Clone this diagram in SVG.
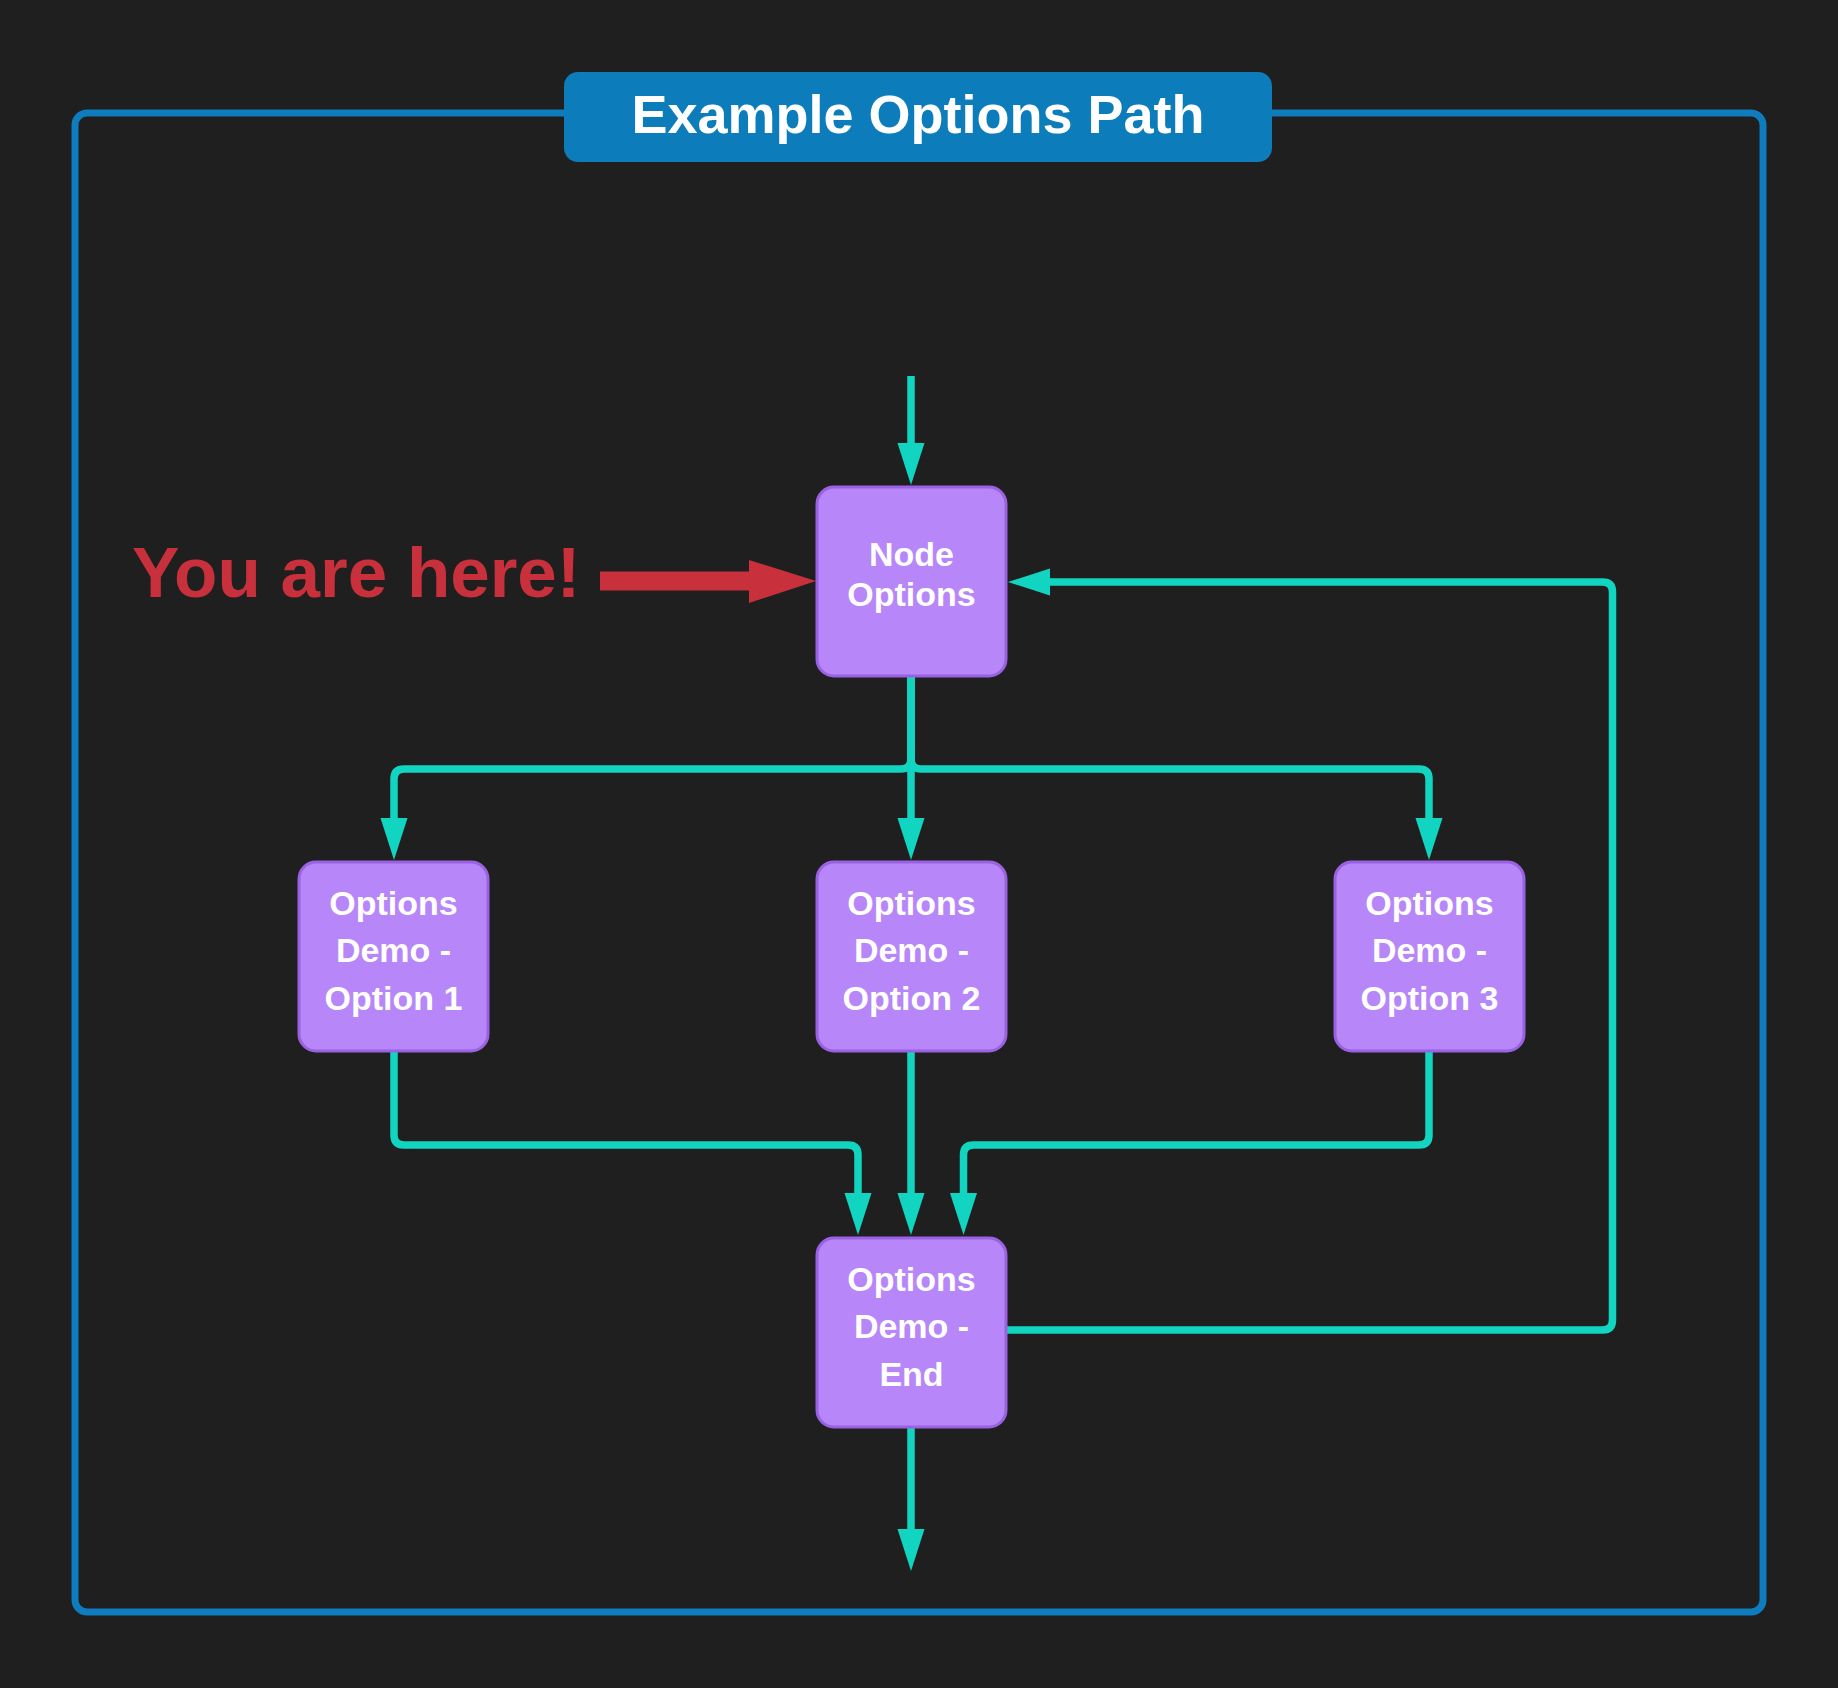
<svg xmlns="http://www.w3.org/2000/svg" width="1838" height="1688" viewBox="0 0 1838 1688">
<defs>
<style>
.node rect{fill:#b786f8;stroke:#9a62e2;stroke-width:3}
.node text{fill:#ffffff;font-family:"Liberation Sans",Arial,sans-serif;font-weight:bold;font-size:34px;text-anchor:middle}
.conn path{fill:none;stroke:#12d5c1;stroke-width:7.5;stroke-linejoin:round}
</style>
<marker id="ah" markerUnits="userSpaceOnUse" markerWidth="44" markerHeight="28" refX="0" refY="13.5" orient="auto">
<path d="M0,0 L42,13.5 L0,27 z" fill="#12d5c1"/>
</marker>
</defs>
<rect width="1838" height="1688" fill="#1f1f1f"/>
<g id="frame">
<rect x="75" y="113" width="1688" height="1499" rx="12" fill="none" stroke="#0f7dbd" stroke-width="7"/>
<rect x="564" y="72" width="708" height="90" rx="14" fill="#0c7cba"/>
<text x="918" y="133" font-family="'Liberation Sans',Arial,sans-serif" font-weight="bold" font-size="54" fill="#ffffff" text-anchor="middle">Example Options Path</text>
</g>
<g id="connectors" class="conn">
<path d="M911 376 V443" marker-end="url(#ah)"/>
<path d="M911 677 V759 Q911 769 901 769 H404 Q394 769 394 779 V818" marker-end="url(#ah)"/>
<path d="M911 677 V818" marker-end="url(#ah)"/>
<path d="M911 677 V759 Q911 769 921 769 H1419 Q1429 769 1429 779 V818" marker-end="url(#ah)"/>
<path d="M394 1052 V1135 Q394 1145 404 1145 H848 Q858 1145 858 1155 V1193" marker-end="url(#ah)"/>
<path d="M911 1052 V1193" marker-end="url(#ah)"/>
<path d="M1429 1052 V1135 Q1429 1145 1419 1145 H973.5 Q963.5 1145 963.5 1155 V1193" marker-end="url(#ah)"/>
<path d="M1007 1330 H1602.5 Q1612.5 1330 1612.5 1320 V592 Q1612.5 582 1602.5 582 H1050" marker-end="url(#ah)"/>
<path d="M911 1428 V1529" marker-end="url(#ah)"/>
</g>
<g id="you-are-here">
<text x="132" y="597" font-family="'Liberation Sans',Arial,sans-serif" font-weight="bold" font-size="71" fill="#c8313b">You are here!</text>
<rect x="600" y="571.5" width="150" height="19" fill="#c8313b"/>
<polygon points="749,560 816,581 749,603" fill="#c8313b"/>
</g>
<g id="node-options" class="node">
<rect x="817" y="487" width="189" height="189" rx="17"/>
<text x="911.5" y="566" font-size="32">Node</text>
<text x="911.5" y="606" font-size="32">Options</text>
</g>
<g id="option-1" class="node">
<rect x="299" y="862" width="189" height="189" rx="17"/>
<text x="393.5" y="915">Options</text>
<text x="393.5" y="962">Demo -</text>
<text x="393.5" y="1010">Option 1</text>
</g>
<g id="option-2" class="node">
<rect x="817" y="862" width="189" height="189" rx="17"/>
<text x="911.5" y="915">Options</text>
<text x="911.5" y="962">Demo -</text>
<text x="911.5" y="1010">Option 2</text>
</g>
<g id="option-3" class="node">
<rect x="1335" y="862" width="189" height="189" rx="17"/>
<text x="1429.5" y="915">Options</text>
<text x="1429.5" y="962">Demo -</text>
<text x="1429.5" y="1010">Option 3</text>
</g>
<g id="options-end" class="node">
<rect x="817" y="1238" width="189" height="189" rx="17"/>
<text x="911.5" y="1291">Options</text>
<text x="911.5" y="1338">Demo -</text>
<text x="911.5" y="1386">End</text>
</g>
</svg>
